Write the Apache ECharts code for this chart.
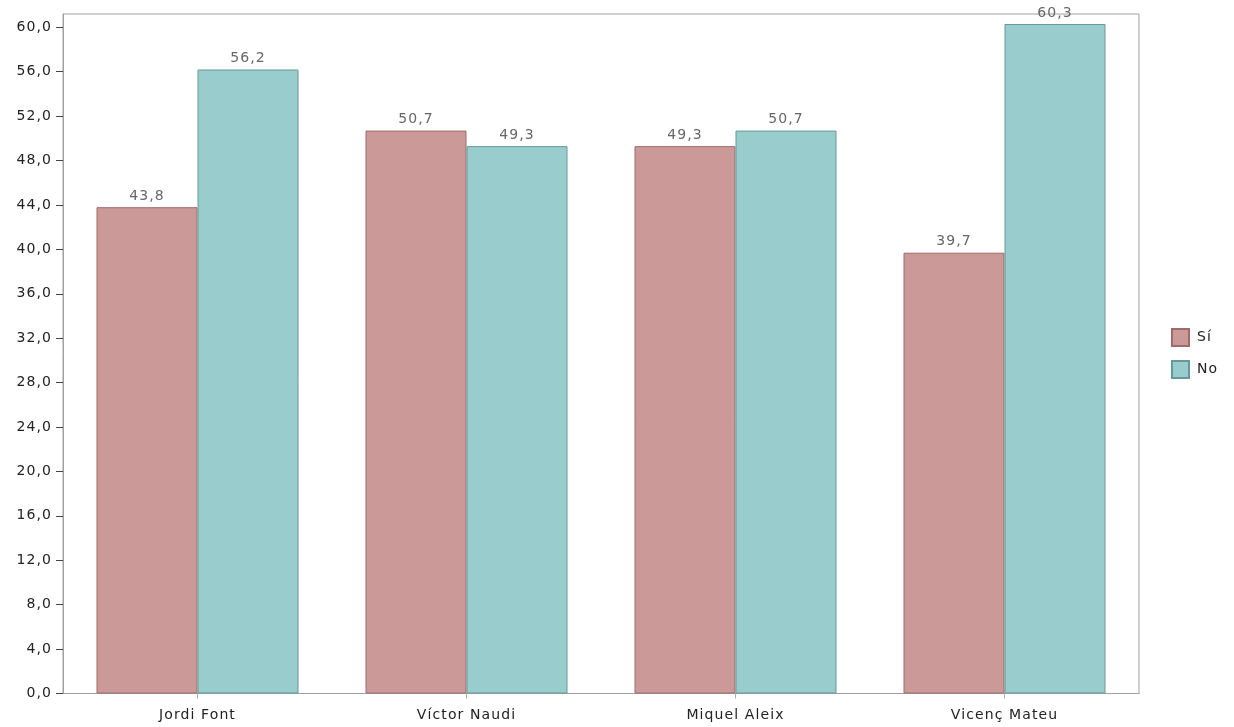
<!DOCTYPE html>
<html>
<head>
<meta charset="utf-8">
<script src="https://cdn.jsdelivr.net/npm/echarts@6/dist/echarts.min.js"></script>
<style>html,body{margin:0;padding:0;background:#fff}#c{width:1234px;height:727px}</style>
</head>
<body>
<div id="c"></div>
<script>
const categories = ['Jordi Font', 'Víctor Naudi', 'Miquel Aleix', 'Vicenç Mateu'];
const seriesNames = ['Sí', 'No'];
const siValues = [43.8, 50.7, 49.3, 39.7];
const noValues = [56.2, 49.3, 50.7, 60.3];
const yTicks = [0, 4, 8, 12, 16, 20, 24, 28, 32, 36, 40, 44, 48, 52, 56, 60];

// slightly spaced lettering, like the original chart's text
(function () {
  const proto = CanvasRenderingContext2D.prototype;
  const orig = proto.fillText;
  proto.fillText = function () {
    if ('letterSpacing' in this) this.letterSpacing = '1.1px';
    return orig.apply(this, arguments);
  };
})();

const fmt = v => Number(v).toFixed(1).replace('.', ',');
const font = 'DejaVu Sans, Verdana, sans-serif';
const fs = 14;

const chart = echarts.init(document.getElementById('c'), null, {renderer: 'canvas'});
chart.setOption({
  animation: false,
  backgroundColor: '#fff',
  grid: {left: 63, top: 14, right: 95, bottom: 33.5, show: true, borderColor: '#a0a0a0', borderWidth: 1, backgroundColor: 'transparent'},
  legend: {
    orient: 'vertical', left: 1171, top: 328, padding: 0,
    itemWidth: 17, itemHeight: 17, itemGap: 13,
    icon: 'rect',
    textStyle: {fontFamily: font, fontSize: fs, color: '#222', padding: [0, 0, 0, 3]},
    data: seriesNames
  },
  xAxis: {
    type: 'category', data: categories,
    axisLine: {lineStyle: {color: '#a0a0a0'}},
    axisTick: {show: true, alignWithLabel: true, length: 5, lineStyle: {color: '#b0b0a0'}},
    axisLabel: {fontFamily: font, fontSize: fs, color: '#222', margin: 15},
    splitLine: {show: false}
  },
  yAxis: {
    type: 'value', min: 0, max: 61.2,
    axisLine: {show: true, lineStyle: {color: '#a0a0a0'}},
    axisTick: {show: true, length: 7, customValues: yTicks, lineStyle: {color: '#444'}},
    axisLabel: {fontFamily: font, fontSize: fs, color: '#222', margin: 11, customValues: yTicks, formatter: fmt},
    splitLine: {show: false}
  },
  series: [
    {
      name: seriesNames[0], type: 'bar', data: siValues,
      barWidth: 101, barGap: '0%',
      itemStyle: {color: '#cc9999', borderColor: '#a06a6a', borderWidth: 1},
      label: {show: true, position: 'top', distance: 4, fontFamily: font, fontSize: fs, color: '#666', formatter: p => fmt(p.value)}
    },
    {
      name: seriesNames[1], type: 'bar', data: noValues,
      barWidth: 101, barGap: '0%',
      itemStyle: {color: '#99cccc', borderColor: '#669999', borderWidth: 1},
      label: {show: true, position: 'top', distance: 4, fontFamily: font, fontSize: fs, color: '#666', formatter: p => fmt(p.value)}
    }
  ]
});
</script>
</body>
</html>
